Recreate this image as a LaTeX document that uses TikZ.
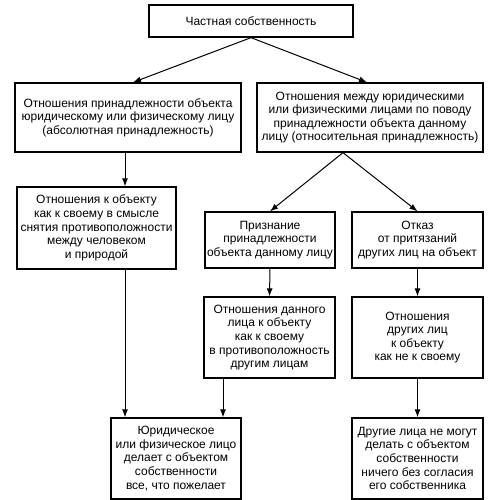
\documentclass[tikz,border=0pt]{standalone}
\usepackage{fontspec}
\setmainfont{Liberation Sans}
\usetikzlibrary{shapes,arrows.meta}

\begin{document}
\begin{tikzpicture}[>={Latex[length=8pt,width=6pt]}, x=1pt, y=-1pt,
    box/.style={draw, line width=1.3pt, align=center, inner sep=0pt,
                font=\fontsize{12}{13.6}\selectfont},
    link/.style={->, line width=1pt}]
\useasboundingbox (0,0) rectangle (500,500);
% top
\node[box, minimum width=204pt, minimum height=32pt] (prop) at (251,21) {Частная собственность};
% second row
\node[box, minimum width=226pt, minimum height=69pt] (abs) at (128,117.5)
    {Отношения принадлежности объекта\\юридическому или физическому лицу\\(абсолютная принадлежность)};
\node[box, minimum width=226pt, minimum height=69pt] (rel) at (370,117.5)
    {Отношения между юридическими\\или физическими лицами по поводу\\принадлежности объекта данному\\лицу (относительная принадлежность)};
% third row
\node[box, minimum width=159pt, minimum height=82pt] (own) at (96.5,228)
    {Отношения к объекту\\как к своему в смысле\\снятия противоположности\\между человеком\\и природой};
\node[box, minimum width=130pt, minimum height=56pt] (recog) at (270,240)
    {Признание\\принадлежности\\объекта данному лицу};
\node[box, minimum width=131pt, minimum height=56pt] (refus) at (417.5,240)
    {Отказ\\от притязаний\\других лиц на объект};
% fourth row
\node[box, minimum width=131pt, minimum height=81pt] (given) at (269.5,337.5)
    {Отношения данного\\лица к объекту\\как к своему\\в противоположность\\другим лицам};
\node[box, minimum width=131pt, minimum height=81pt] (other) at (417.5,337.5)
    {Отношения\\других лиц\\к объекту\\как не к своему};
% bottom row
\node[box, minimum width=130pt, minimum height=81pt] (does) at (176,458.5)
    {Юридическое\\или физическое лицо\\делает с объектом\\собственности\\все, что пожелает};
\node[box, minimum width=131pt, minimum height=81pt] (cannot) at (417.5,458.5)
    {Другие лица не могут\\делать с объектом\\собственности\\ничего без согласия\\его собственника};

% arrows
\draw[link] (prop.south) -- ([xshift=5pt]abs.north);
\draw[link] (prop.south) -- ([xshift=-3pt]rel.north);
\draw[link] ([xshift=-3pt]abs.south) -- ([xshift=-3pt]abs.south |- own.north);
\draw[link] ([xshift=-27pt]rel.south) -- (recog.north);
\draw[link] ([xshift=-27pt]rel.south) -- (refus.north);
\draw[link] (recog.south) -- (given.north);
\draw[link] (refus.south) -- (other.north);
\draw[link] ([xshift=-3pt]abs.south |- own.south) -- ([xshift=-3pt]abs.south |- does.north);
\draw[link] ([xshift=-46.5pt]given.south) -- ([xshift=-46.5pt]given.south |- does.north);
\draw[link] (other.south) -- (cannot.north);
\end{tikzpicture}
\end{document}
